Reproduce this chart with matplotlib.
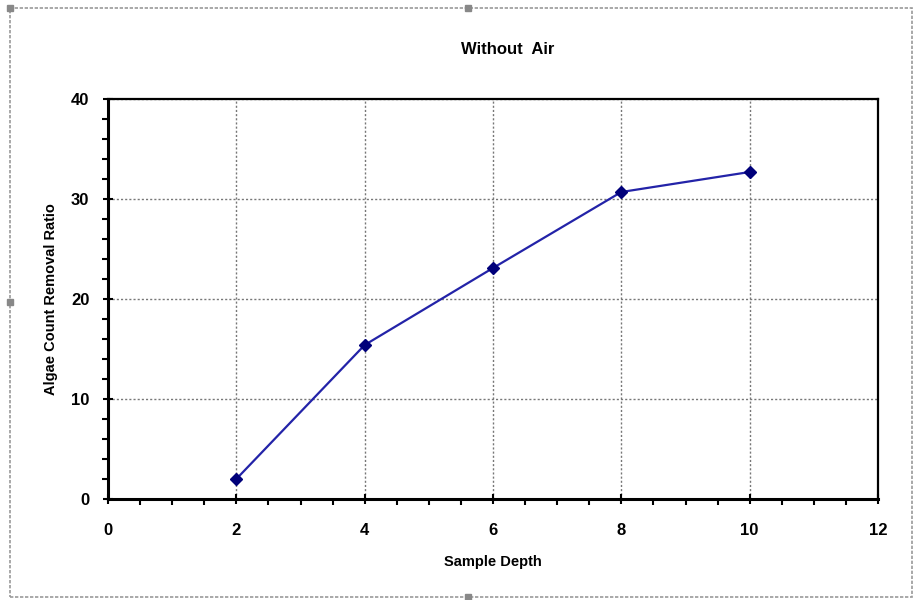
import matplotlib
matplotlib.use("Agg")
import matplotlib.pyplot as plt
from matplotlib.ticker import MultipleLocator
from matplotlib.patches import Rectangle

plt.rcParams['font.family'] = ['Liberation Sans', 'DejaVu Sans']

depth = [2, 4, 6, 8, 10]
ratio = [2.0, 15.4, 23.1, 30.7, 32.7]

fig = plt.figure(figsize=(9.16, 6.0), dpi=100)
ax = fig.add_axes([108/916, 1 - 499/600, (878 - 108)/916, (499 - 99)/600])

ax.plot(depth, ratio, color='#2323a8', lw=1.6, marker='D', ms=6,
        mfc='#00007a', mec='#00007a', zorder=3)

ax.set_xlim(0, 12)
ax.set_ylim(0, 40)
ax.xaxis.set_major_locator(MultipleLocator(2))
ax.xaxis.set_minor_locator(MultipleLocator(0.5))
ax.yaxis.set_major_locator(MultipleLocator(10))
ax.yaxis.set_minor_locator(MultipleLocator(2))
ax.tick_params(which='major', direction='inout', length=7, width=1.5,
               labelsize=12)
ax.tick_params(axis='x', which='major', pad=14)
ax.tick_params(axis='y', which='major', pad=10)
ax.tick_params(which='minor', direction='out', length=4, width=1.5)
for lab in ax.get_xticklabels() + ax.get_yticklabels():
    lab.set_fontweight('bold')

ax.grid(True, which='major', linestyle=(0, (1.5, 1.5)), color='#777777', lw=1)
ax.set_axisbelow(True)
for s in ax.spines.values():
    s.set_linewidth(1.6)
    s.set_color('black')
ax.spines['bottom'].set_linewidth(2.2)
ax.spines['left'].set_linewidth(2.2)

fig.text(508/916, 1 - 50/600, 'Without  Air', fontsize=12, fontweight='bold',
         ha='center', va='center')
ax.set_xlabel('Sample Depth', fontsize=10.5, fontweight='bold', labelpad=12)
ax.set_ylabel('Algae Count Removal Ratio', fontsize=10.5, fontweight='bold', labelpad=9)

# dashed selection frame around the chart
fig.patches.append(Rectangle((10/916, 1 - 597/600), (912 - 10)/916, (597 - 8)/600,
                             transform=fig.transFigure, fill=False,
                             edgecolor='#999999', lw=1.2, linestyle=(0, (2, 1))))
for hx, hy in [(468, 8), (10, 302), (468, 597), (10, 8)]:
    fig.patches.append(Rectangle(((hx - 3)/916, 1 - (hy + 3)/600), 6/916, 6/600,
                                 transform=fig.transFigure, color='#888888'))

fig.savefig('out.png', dpi=100)
